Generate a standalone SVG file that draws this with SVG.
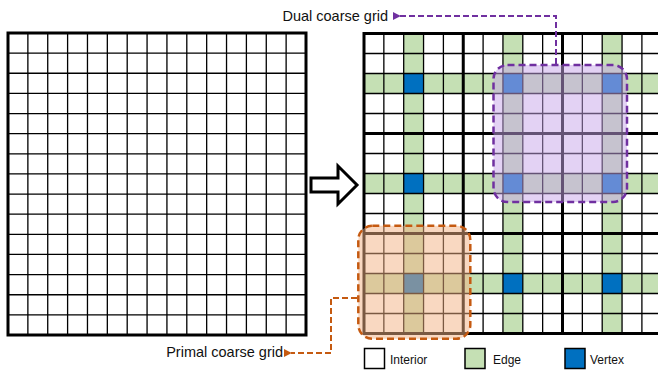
<svg xmlns="http://www.w3.org/2000/svg" width="658" height="370" viewBox="0 0 658 370">
<style>
.thin{stroke:#000;stroke-width:1.3;fill:none}
.thick{stroke:#000;stroke-width:3;fill:none}
.edge{fill:#C5E0B4}
.vert{fill:#0070C0}
.lbl{font-family:"Liberation Sans",Arial,sans-serif;font-size:14.5px;fill:#111}
.leg{font-family:"Liberation Sans",Arial,sans-serif;font-size:12px;fill:#111}
</style>
<defs>
<marker id="ahP" viewBox="0 0 10 10" refX="1" refY="5" markerWidth="4" markerHeight="4" orient="auto-start-reverse"><path d="M0,5 L10,0 L10,10 Z" fill="#7030A0"/></marker>
<marker id="ahO" viewBox="0 0 10 10" refX="1" refY="5" markerWidth="4" markerHeight="4" orient="auto-start-reverse"><path d="M0,5 L10,0 L10,10 Z" fill="#C55A11"/></marker>
</defs>
<rect width="658" height="370" fill="#fff"/>

<g id="fine-grid">
<path class="thin" d="M27.87,33V335M47.73,33V335M67.6,33V335M87.47,33V335M107.33,33V335M127.2,33V335M147.07,33V335M166.93,33V335M186.8,33V335M206.67,33V335M226.53,33V335M246.4,33V335M266.27,33V335M286.13,33V335
M8,53.13H306M8,73.27H306M8,93.4H306M8,113.53H306M8,133.67H306M8,153.8H306M8,173.93H306M8,194.07H306M8,214.2H306M8,234.33H306M8,254.47H306M8,274.6H306M8,294.73H306M8,314.87H306"/>
<rect class="thick" x="8" y="33" width="298" height="302"/>
</g>

<g id="block-arrow">
<path d="M311,178 H338 V166 L357,185 L338,204 V192 H311 Z" fill="#fff" stroke="#000" stroke-width="3" stroke-linejoin="miter"/>
</g>

<g id="multilevel-grid">
<g id="edge-cells">
<rect class="edge" x="403.7" y="33.5" width="19.85" height="300"/>
<rect class="edge" x="502.95" y="33.5" width="19.85" height="300"/>
<rect class="edge" x="602.2" y="33.5" width="19.85" height="300"/>
<rect class="edge" x="364" y="73.5" width="298" height="20"/>
<rect class="edge" x="364" y="173.5" width="298" height="20"/>
<rect class="edge" x="364" y="273.5" width="298" height="20"/>
</g>
<g id="vertex-cells">
<rect class="vert" x="403.7" y="73.5" width="19.85" height="20"/>
<rect class="vert" x="502.95" y="73.5" width="19.85" height="20"/>
<rect class="vert" x="602.2" y="73.5" width="19.85" height="20"/>
<rect class="vert" x="403.7" y="173.5" width="19.85" height="20"/>
<rect class="vert" x="502.95" y="173.5" width="19.85" height="20"/>
<rect class="vert" x="602.2" y="173.5" width="19.85" height="20"/>
<rect class="vert" x="403.7" y="273.5" width="19.85" height="20"/>
<rect class="vert" x="502.95" y="273.5" width="19.85" height="20"/>
<rect class="vert" x="602.2" y="273.5" width="19.85" height="20"/>
</g>
<path class="thin" d="M383.85,33.5V333.5M403.7,33.5V333.5M423.55,33.5V333.5M443.4,33.5V333.5M483.1,33.5V333.5M502.95,33.5V333.5M522.8,33.5V333.5M542.65,33.5V333.5M582.35,33.5V333.5M602.2,33.5V333.5M622.05,33.5V333.5M641.9,33.5V333.5
M364,53.5H662M364,73.5H662M364,93.5H662M364,113.5H662M364,153.5H662M364,173.5H662M364,193.5H662M364,213.5H662M364,253.5H662M364,273.5H662M364,293.5H662M364,313.5H662"/>
<path class="thick" d="M463.25,33.5V333.5M562.5,33.5V333.5M364,133.5H662M364,233.5H662"/>
<rect class="thick" x="364" y="33.5" width="297.75" height="300"/>
</g>

<g id="primal-coarse-grid">
<rect x="358.3" y="225.8" width="112" height="113" rx="14" fill="#F4B183" fill-opacity="0.5"/>
<rect x="358.3" y="225.8" width="112" height="113" rx="14" fill="none" stroke="#C55A11" stroke-width="2.5" stroke-dasharray="7 4"/>
</g>

<g id="dual-coarse-grid">
<rect x="493.5" y="65" width="133.5" height="137" rx="14" fill="#C7A6EA" fill-opacity="0.5"/>
<rect x="493.5" y="65" width="133.5" height="137" rx="14" fill="none" stroke="#7030A0" stroke-width="2.5" stroke-dasharray="7 4"/>
</g>

<g id="connectors">
<path d="M556,64 V16 H400" fill="none" stroke="#7030A0" stroke-width="2" stroke-dasharray="6 3" marker-end="url(#ahP)"/>
<path d="M357,298 H331 V353 H291" fill="none" stroke="#C55A11" stroke-width="2" stroke-dasharray="6 3" marker-end="url(#ahO)"/>
</g>

<g id="label-dual">
<text class="lbl" x="388" y="21" text-anchor="end">Dual coarse grid</text>
</g>
<g id="label-primal">
<text class="lbl" x="283" y="357" text-anchor="end">Primal coarse grid</text>
</g>

<g id="legend">
<g id="legend-interior">
<rect x="364.5" y="348.5" width="20" height="20" fill="#fff" stroke="#000" stroke-width="1.5"/>
<text class="leg" x="390" y="364">Interior</text>
</g>
<g id="legend-edge">
<rect x="465" y="348.5" width="20" height="20" fill="#C5E0B4" stroke="#000" stroke-width="1.5"/>
<text class="leg" x="493" y="364">Edge</text>
</g>
<g id="legend-vertex">
<rect x="565" y="348.5" width="20" height="20" fill="#0070C0" stroke="#000" stroke-width="1.5"/>
<text class="leg" x="590" y="364">Vertex</text>
</g>
</g>
</svg>
